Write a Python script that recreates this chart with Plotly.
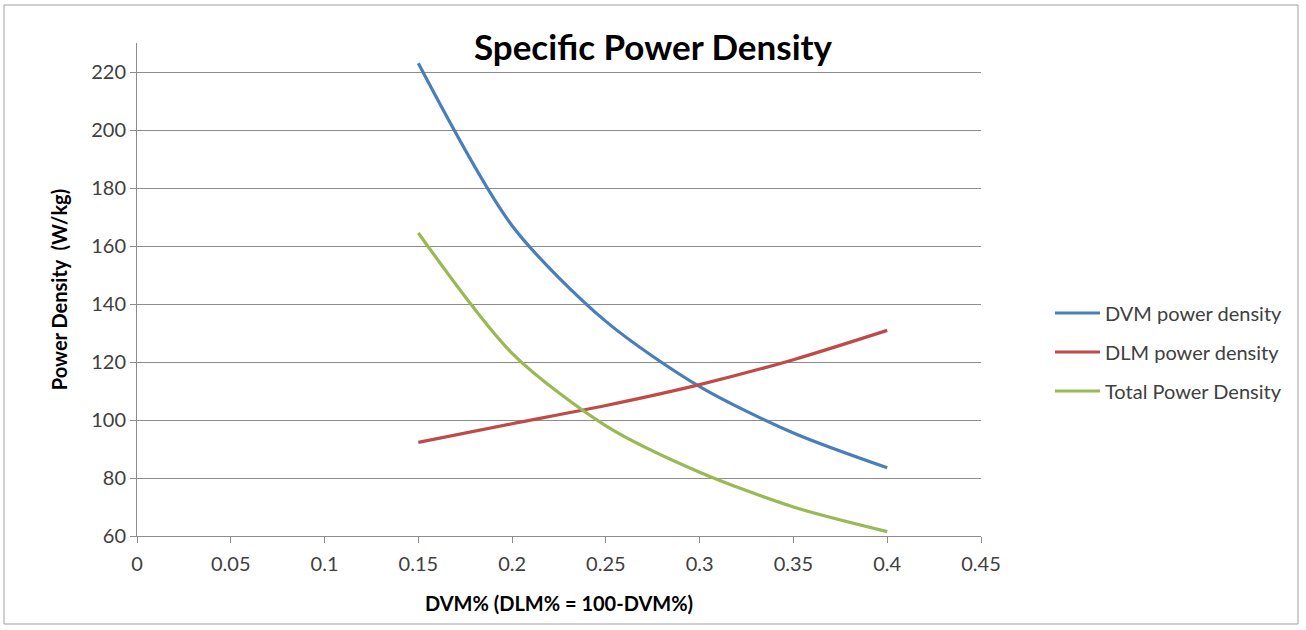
import plotly.graph_objects as go

# DVM share (x) and the three power density curves
dvm_share = [0.15, 0.2, 0.25, 0.3, 0.35, 0.4]
dvm_density = [223, 167, 134, 111.5, 95.5, 83.5]
dlm_density = [92.3, 98.7, 105, 112.2, 120.8, 130.9]
total_density = [164.5, 123, 98, 82, 70, 61.5]

y_ticks = [60, 80, 100, 120, 140, 160, 180, 200, 220]

font_name = "Lato"
grid_color = "#8c8c8c"
text_color = "#404040"

fig = go.Figure()

series = [
    ("DVM power density", dvm_density, "#4a7ebb"),
    ("DLM power density", dlm_density, "#be4b48"),
    ("Total Power Density", total_density, "#98b954"),
]
for name, vals, color in series:
    fig.add_trace(go.Scatter(
        x=dvm_share,
        y=vals,
        name=name,
        legendgroup=name,
        mode="lines",
        line=dict(color=color, width=3.2, shape="spline", smoothing=0.8),
    ))

# plot area: x 137..981 px, y 43..536 px
L, R, T, B = 137, 325, 43, 94
pw = 1306 - L - R
ph = 630 - T - B

fig.update_layout(
    width=1306,
    height=630,
    margin=dict(l=L, r=R, t=T, b=B),
    paper_bgcolor="white",
    plot_bgcolor="white",
    font=dict(family=font_name, color=text_color, size=20),
    title=dict(
        text="<b>Specific Power Density</b>",
        x=(653 - L) / pw, xref="paper", xanchor="center",
        y=1 - 48 / 630, yref="container", yanchor="middle",
        font=dict(family=font_name, size=35, color="black"),
    ),
    legend=dict(
        x=(1050 - L) / pw, xanchor="left",
        y=(536 - 352) / ph, yanchor="middle",
        font=dict(family=font_name, size=20, color=text_color),
        itemwidth=45,
        tracegroupgap=10,
        bgcolor="rgba(0,0,0,0)",
    ),
    shapes=[
        dict(
            type="rect", xref="paper", yref="paper",
            x0=(4 - L) / pw, x1=(1298 - L) / pw,
            y0=(536 - 624) / ph, y1=(536 - 5) / ph,
            line=dict(color="#a0a0a0", width=1),
            fillcolor="rgba(0,0,0,0)",
            layer="below",
        )
    ],
)

fig.update_xaxes(
    range=[0, 0.45],
    dtick=0.05,
    tick0=0,
    showgrid=False,
    zeroline=False,
    showline=True,
    linecolor=grid_color,
    linewidth=1,
    ticks="outside",
    ticklen=6,
    tickcolor=grid_color,
    ticklabelstandoff=4,
    tickfont=dict(size=20, color=text_color),
    title=dict(text="<b>DVM% (DLM% = 100-DVM%)</b>", standoff=22,
               font=dict(size=20, color="black")),
)

fig.update_yaxes(
    range=[60, 230],
    tickvals=y_ticks,
    showgrid=True,
    gridcolor=grid_color,
    gridwidth=1,
    zeroline=False,
    showline=True,
    linecolor=grid_color,
    linewidth=1,
    ticks="outside",
    ticklen=6,
    tickcolor=grid_color,
    tickfont=dict(size=20, color=text_color),
    title=dict(text="<b>Power Density  (W/kg)</b>", standoff=18,
               font=dict(size=20, color="black")),
)

# the page body has a default 8px margin; drop it so the chart sits at 0,0
fig.write_html("out.html", config={"displayModeBar": False},
               post_script="document.body.style.margin='0';")
